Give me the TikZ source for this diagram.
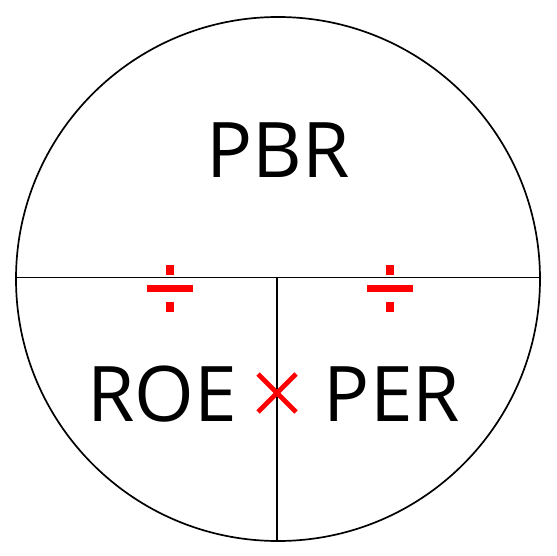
\documentclass[tikz,border=0pt]{standalone}
\usepackage{fontspec}
\setmainfont{Open Sans}
\usepackage{tikz}
\usetikzlibrary{positioning}
\tikzset{
  ratiolabel/.style={font=\fontsize{77}{80}\selectfont, inner sep=0pt, anchor=base},
  divline/.style={line width=1.7pt, black},
  opmark/.style={red, fill=red, draw=none},
  timesline/.style={red, line width=4.8pt}
}

\begin{document}
\begin{tikzpicture}[x=1bp, y=-1bp]
  \useasboundingbox (0,0) rectangle (557,556);
  % outer circle and dividers
  \coordinate (c) at (278,279);
  \draw[divline] (c) circle[radius=262];
  \coordinate (l) at (16,277.5);
  \coordinate (r) at (540,277.5);
  \coordinate (m) at (277,277.5);
  \coordinate (b) at (277,541);
  \draw[divline] (l) -- (r);
  \draw[divline] (m) -- (b);
  % labels
  \node[ratiolabel] (pbr) at (278,178) {PBR};
  \node[ratiolabel] (roe) at (162,421) {ROE};
  \node[ratiolabel] (per) at (392,421) {PER};
  % division signs
  \foreach \dx in {169.5,390} {
    \fill[opmark] (\dx-4,265) rectangle (\dx+4,275);
    \fill[opmark] (\dx-23,285) rectangle (\dx+23,291.5);
    \fill[opmark] (\dx-4,301.5) rectangle (\dx+4,311.5);
  }
  % multiplication sign
  \coordinate (xc) at (277,393);
  \draw[timesline] ([shift={(-19,-19)}]xc) -- ([shift={(19,19)}]xc);
  \draw[timesline] ([shift={(-19,19)}]xc) -- ([shift={(19,-19)}]xc);
\end{tikzpicture}
\end{document}
